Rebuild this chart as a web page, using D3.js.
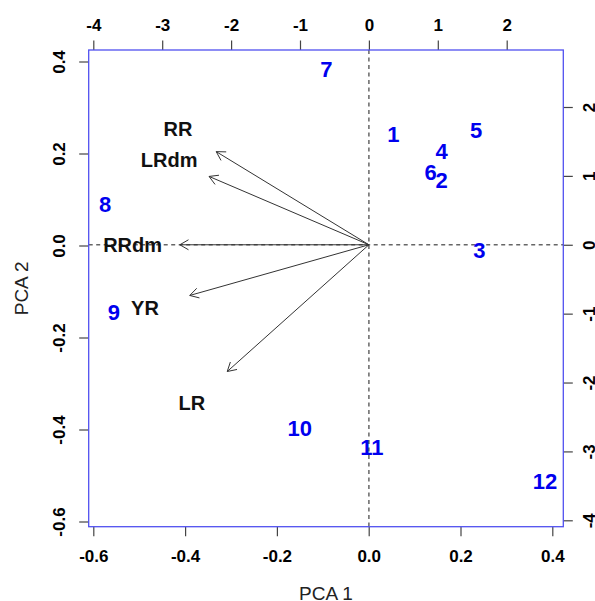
<!DOCTYPE html>
<html>
<head>
<meta charset="utf-8">
<script src="https://cdn.jsdelivr.net/npm/d3@7"></script>
<style>
  html, body { margin: 0; padding: 0; background: #fff; }
  svg { display: block; }
  text { font-family: "Liberation Sans", Arial, sans-serif; }
</style>
</head>
<body>
<svg id="chart" width="595" height="601"></svg>
<script>
// ---- Data ----
// Observation scores (bottom / left axes)
const obsLabels = ["1","2","3","4","5","6","7","8","9","10","11","12"];
const obsPC1 = [0.054, 0.159, 0.241, 0.159, 0.234, 0.135, -0.092, -0.574, -0.555, -0.150, 0.007, 0.384];
const obsPC2 = [0.243, 0.142, -0.009, 0.206, 0.252, 0.160, 0.383, 0.089, -0.144, -0.396, -0.439, -0.512];

// Variable loadings (top / right axes)
const varLabels = ["RR", "LRdm", "RRdm", "YR", "LR"];
const varPC1 = [-2.77, -2.90, -3.43, -3.25, -2.57];
const varPC2 = [1.69, 1.24, 0.00, -0.92, -2.30];
const arrowFrac = 0.8;   // biplot arrows end at 0.8 of the loading position

// Tick values
const xTicks = [-0.6, -0.4, -0.2, 0.0, 0.2, 0.4];
const yTicks = [-0.6, -0.4, -0.2, 0.0, 0.2, 0.4];
const x2Ticks = [-4, -3, -2, -1, 0, 1, 2];
const y2Ticks = [-4, -3, -2, -1, 0, 1, 2];
const xTitle = "PCA 1";
const yTitle = "PCA 2";

// ---- Layout ----
const box = { left: 88.7, right: 563.3, top: 50, bottom: 526.7 };
const svg = d3.select("#chart");

const x = d3.scaleLinear().domain([-0.6, 0.4]).range([93.3, 552.3]);
const y = d3.scaleLinear().domain([-0.6, 0.4]).range([521.5, 61.5]);
const x2 = d3.scaleLinear().domain([-4, 2]).range([93.3, 506.7]);
const y2 = d3.scaleLinear().domain([-4, 2]).range([520.3, 107]);

const tickLen = 9.5;
const tickColor = "#444";
const fmt1 = d3.format(".1f");
const fmtMinus = v => (v < 0 ? "-" : "") + fmt1(Math.abs(v));

// Bottom axis
const gB = svg.append("g").attr("transform", `translate(0,${box.bottom})`)
  .call(d3.axisBottom(x).tickValues(xTicks).tickSize(tickLen).tickPadding(4).tickFormat(fmtMinus));
// Left axis
const gL = svg.append("g").attr("transform", `translate(${box.left},0)`)
  .call(d3.axisLeft(y).tickValues(yTicks).tickSize(tickLen).tickFormat(fmtMinus));
// Top axis
const gT = svg.append("g").attr("transform", `translate(0,${box.top})`)
  .call(d3.axisTop(x2).tickValues(x2Ticks).tickSize(tickLen).tickPadding(4).tickFormat(d => (d < 0 ? "-" : "") + Math.abs(d)));
// Right axis
const gR = svg.append("g").attr("transform", `translate(${box.right},0)`)
  .call(d3.axisRight(y2).tickValues(y2Ticks).tickSize(tickLen).tickFormat(d => (d < 0 ? "-" : "") + Math.abs(d)));

[gB, gL, gT, gR].forEach(g => {
  g.select(".domain").remove();
  g.selectAll(".tick line").attr("stroke", tickColor).attr("stroke-width", 1.2);
  g.selectAll(".tick text")
    .attr("fill", "#000")
    .style("font-size", "17px")
    .style("font-weight", "bold")
    .style("font-family", "'Liberation Sans', Arial, sans-serif");
});
// bottom labels
gB.selectAll(".tick text").attr("y", null).attr("dy", null)
  .attr("transform", "translate(0,29.5)").attr("dominant-baseline", "central");
gT.selectAll(".tick text").attr("y", null).attr("dy", null)
  .attr("transform", "translate(0,-25)").attr("dominant-baseline", "central");
// left labels rotated
gL.selectAll(".tick text").attr("x", null).attr("dy", null)
  .attr("text-anchor", "middle").attr("dominant-baseline", "central")
  .attr("transform", "translate(-29.5,0) rotate(-90)");
gR.selectAll(".tick text").attr("x", null).attr("dy", null)
  .attr("text-anchor", "middle").attr("dominant-baseline", "central")
  .attr("transform", "translate(26,0) rotate(-90)");

// Zero dashed lines
const dashStyle = { stroke: "#666", width: 1.5, dash: "4,3.5" };
svg.append("line")
  .attr("x1", box.left).attr("x2", box.right)
  .attr("y1", y2(0)).attr("y2", y2(0))
  .attr("stroke", dashStyle.stroke).attr("stroke-width", dashStyle.width)
  .attr("stroke-dasharray", dashStyle.dash);
svg.append("line")
  .attr("x1", x2(0)).attr("x2", x2(0))
  .attr("y1", box.top).attr("y2", box.bottom)
  .attr("stroke", dashStyle.stroke).attr("stroke-width", dashStyle.width)
  .attr("stroke-dasharray", dashStyle.dash);

// Arrows
const vars = varLabels.map((l, i) => ({ label: l, px: varPC1[i], py: varPC2[i] }));
const headLen = 10, headAng = Math.PI / 6;
const arrowG = svg.append("g");
vars.forEach(v => {
  const x0 = x2(0), y0 = y2(0);
  const x1 = x2(v.px * arrowFrac), y1 = y2(v.py * arrowFrac);
  const ang = Math.atan2(y1 - y0, x1 - x0);
  arrowG.append("line")
    .attr("x1", x0).attr("y1", y0).attr("x2", x1).attr("y2", y1)
    .attr("stroke", "#333").attr("stroke-width", 1);
  const p = d3.path();
  p.moveTo(x1 - headLen * Math.cos(ang - headAng), y1 - headLen * Math.sin(ang - headAng));
  p.lineTo(x1, y1);
  p.lineTo(x1 - headLen * Math.cos(ang + headAng), y1 - headLen * Math.sin(ang + headAng));
  arrowG.append("path").attr("d", p.toString())
    .attr("fill", "none").attr("stroke", "#333").attr("stroke-width", 1);
});

// Variable labels
svg.append("g").selectAll("text").data(vars).join("text")
  .attr("x", d => x2(d.px)).attr("y", d => y2(d.py))
  .attr("dy", "0.36em")
  .attr("text-anchor", "middle")
  .style("font-size", "20px").style("font-weight", "bold")
  .attr("fill", "#111")
  .text(d => d.label);

// Observation labels
const obs = obsLabels.map((l, i) => ({ label: l, px: obsPC1[i], py: obsPC2[i] }));
svg.append("g").selectAll("text").data(obs).join("text")
  .attr("x", d => x(d.px)).attr("y", d => y(d.py))
  .attr("dy", "0.36em")
  .attr("text-anchor", "middle")
  .style("font-size", "22px").style("font-weight", "bold")
  .attr("fill", "#0000ee")
  .text(d => d.label);

// Box
svg.append("rect")
  .attr("x", box.left).attr("y", box.top)
  .attr("width", box.right - box.left).attr("height", box.bottom - box.top)
  .attr("fill", "none").attr("stroke", "#5050f0").attr("stroke-width", 1.3);

// Axis titles
svg.append("text")
  .attr("x", (box.left + box.right) / 2).attr("y", 593)
  .attr("text-anchor", "middle").attr("dominant-baseline", "central")
  .style("font-size", "19px").attr("fill", "#222")
  .text(xTitle);
svg.append("text")
  .attr("transform", `translate(21,${(box.top + box.bottom) / 2}) rotate(-90)`)
  .attr("text-anchor", "middle").attr("dominant-baseline", "central")
  .style("font-size", "19px").attr("fill", "#222")
  .text(yTitle);
</script>
</body>
</html>
